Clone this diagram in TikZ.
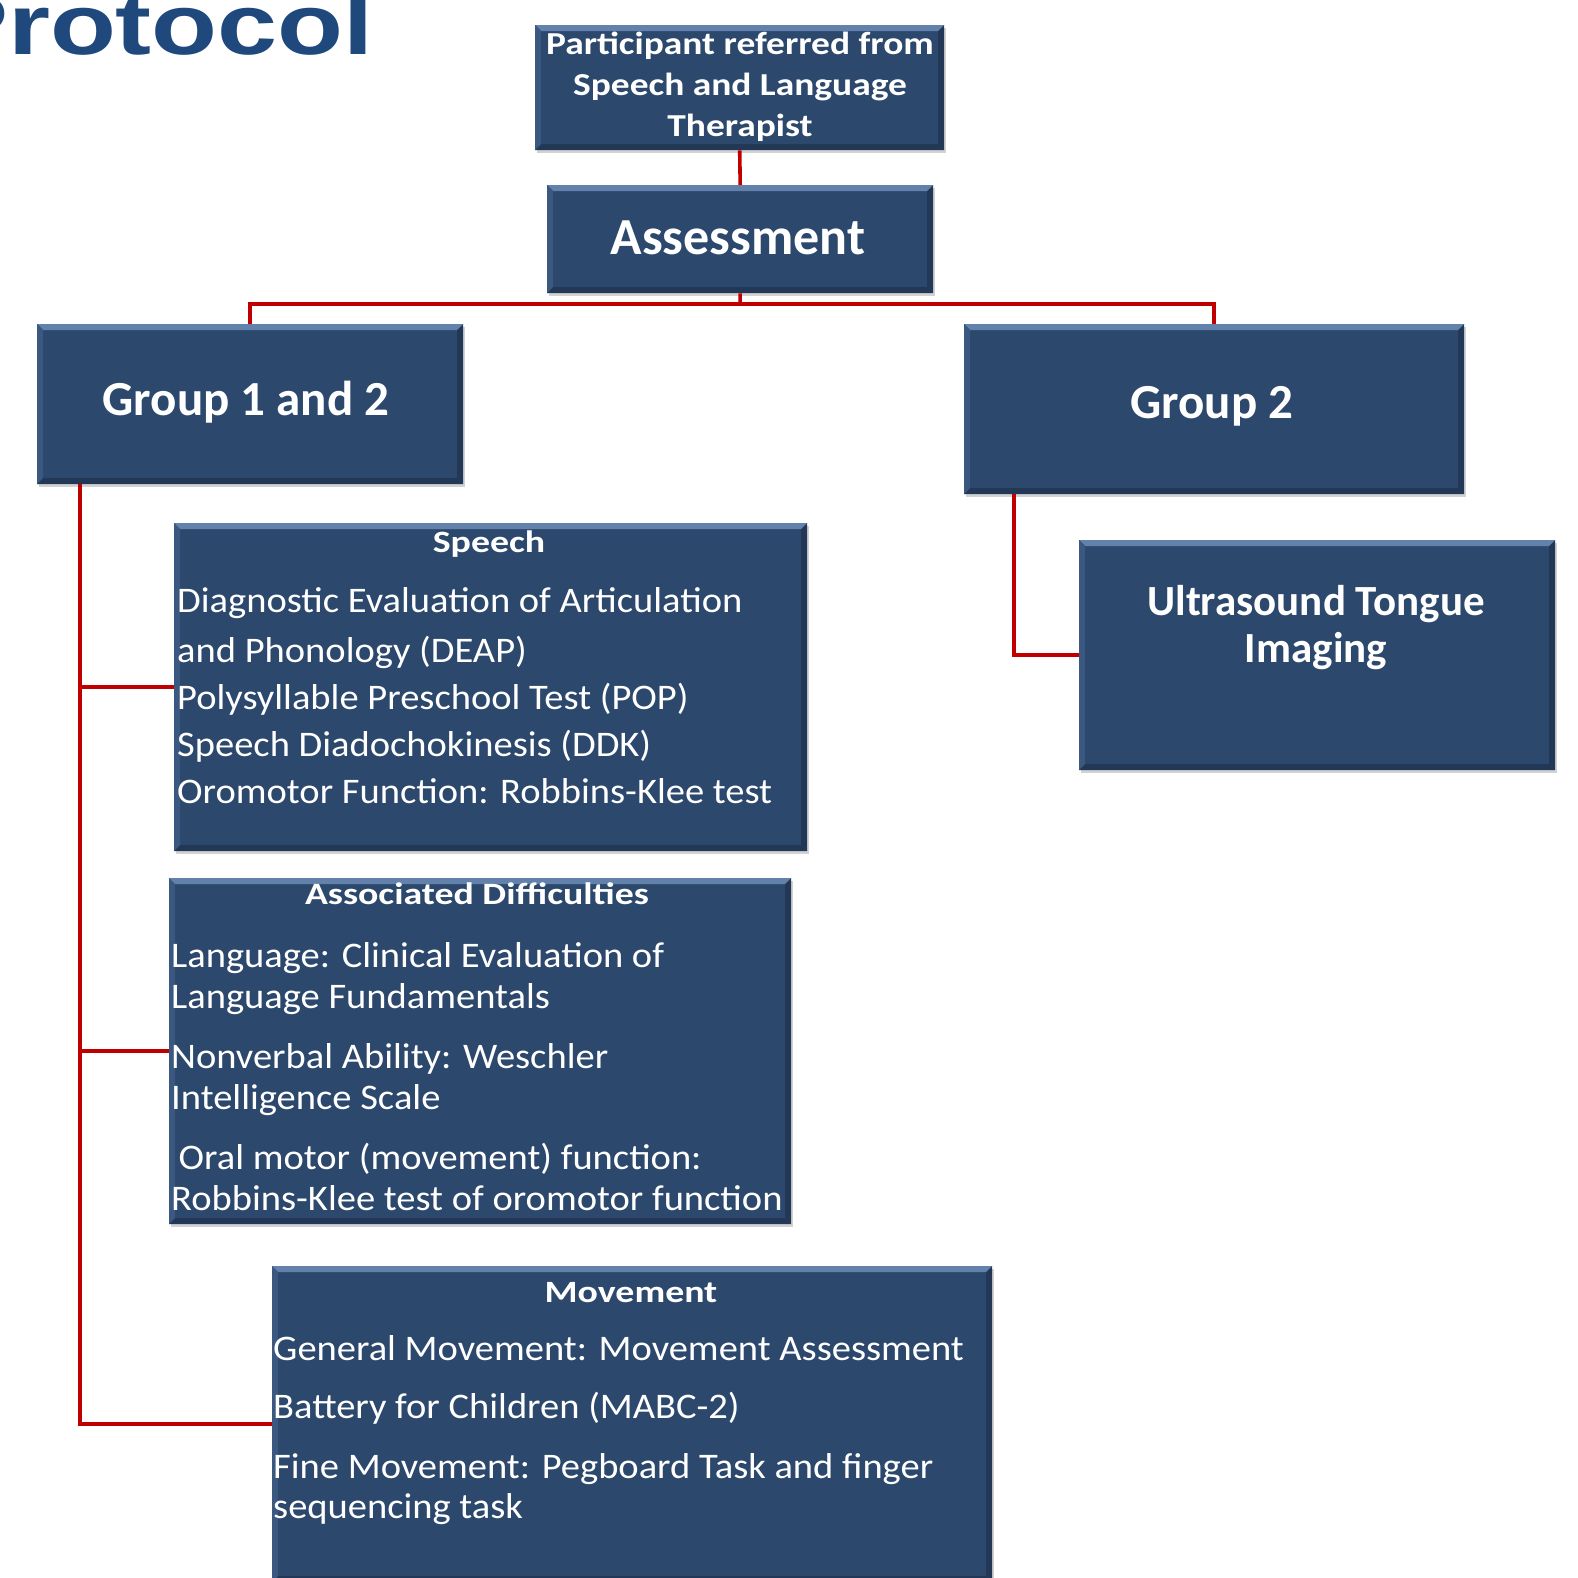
\documentclass[tikz,border=0pt]{standalone}
\usepackage{graphicx}
\usepackage{fontspec}
\setmainfont{Carlito}
\newfontfamily\titlefont{Liberation Sans}
\usetikzlibrary{shadows}
\definecolor{boxblue}{RGB}{44,72,108}
\definecolor{bevlight}{RGB}{98,130,172}
\definecolor{bevmid}{RGB}{58,88,128}
\definecolor{bevdark}{RGB}{34,56,86}
\definecolor{linkred}{RGB}{192,0,0}
\definecolor{titleblue}{RGB}{31,73,125}
\tikzset{
  box/.style={rectangle, inner sep=0pt, fill=boxblue, anchor=north west,
    drop shadow={shadow xshift=2pt, shadow yshift=-3pt, opacity=0.35},
    path picture={
      \fill[bevlight] (path picture bounding box.north west) -- (path picture bounding box.north east)
        -- ([shift={(-6pt,-6pt)}]path picture bounding box.north east) -- ([shift={(6pt,-6pt)}]path picture bounding box.north west) -- cycle;
      \fill[bevmid] (path picture bounding box.north west) -- (path picture bounding box.south west)
        -- ([shift={(6pt,6pt)}]path picture bounding box.south west) -- ([shift={(6pt,-6pt)}]path picture bounding box.north west) -- cycle;
      \fill[bevdark] (path picture bounding box.north east) -- (path picture bounding box.south east)
        -- ([shift={(-6pt,6pt)}]path picture bounding box.south east) -- ([shift={(-6pt,-6pt)}]path picture bounding box.north east) -- cycle;
      \fill[bevdark] (path picture bounding box.south west) -- (path picture bounding box.south east)
        -- ([shift={(-6pt,6pt)}]path picture bounding box.south east) -- ([shift={(6pt,6pt)}]path picture bounding box.south west) -- cycle;
    }},
  txt/.style={text=white, inner sep=0pt},
  link/.style={draw=linkred, line width=3.6pt},
}
\begin{document}
\begin{tikzpicture}[x=1pt, y=-1pt]
\fill[white] (0,0) rectangle (1578,1578);
\clip (0,0) rectangle (1578,1578);

\node[anchor=base east, inner sep=0pt, text=titleblue] (title) at (374,55)
  {\titlefont\bfseries\fontsize{86}{90}\selectfont\scalebox{1.255}[1]{Protocol}};

% boxes
\node[box, minimum width=409pt, minimum height=125pt] (part) at (535,25) {};
\node[box, minimum width=386pt, minimum height=108pt] (assess) at (547,185) {};
\node[box, minimum width=426pt, minimum height=160pt] (g1) at (37,324) {};
\node[box, minimum width=500pt, minimum height=170pt] (g2) at (964,324) {};
\node[box, minimum width=476pt, minimum height=230pt] (us) at (1079,540) {};
\node[box, minimum width=633pt, minimum height=328pt] (sp) at (174,523) {};
\node[box, minimum width=622pt, minimum height=346pt] (ad) at (169,878) {};
\node[box, minimum width=720pt, minimum height=316pt] (mv) at (272,1266) {};

% connectors
\coordinate (hub) at (740,304);
\draw[link] (part.south) -- (assess.north);
\draw[link] (assess.south) -- (hub);
\draw[link] (g1.north) -- (g1.north |- hub) -- (g2.north |- hub) -- (g2.north);
\coordinate (spx) at ([xshift=43pt]g1.south west);
\draw[link] (spx) |- (mv.west);
\draw[link] (sp.west) -- (sp.west -| spx);
\draw[link] (ad.west) -- (ad.west -| spx);
\draw[link] ([xshift=50pt]g2.south west) |- (us.west);

% texts
\node[txt, anchor=base] (part-t) at (740,55)
  {\fontsize{32}{41}\selectfont\bfseries\scalebox{1.17}[1]{\begin{tabular}[t]{@{}c@{}}Participant referred from\\Speech and Language\\Therapist\end{tabular}}};
\node[txt, anchor=base] (assess-t) at (738,255)
  {\fontsize{52}{60}\selectfont\bfseries Assessment};
\node[txt, anchor=base] (g1-t) at (246,415)
  {\fontsize{49}{56}\selectfont\bfseries Group 1 and 2};
\node[txt, anchor=base] (g2-t) at (1212,418)
  {\fontsize{49}{56}\selectfont\bfseries Group 2};
\node[txt, anchor=base] (us-t) at (1316,615)
  {\fontsize{43}{47}\selectfont\bfseries\begin{tabular}[t]{@{}c@{}}Ultrasound Tongue\\Imaging\end{tabular}};

\node[txt, anchor=base] (sp-h) at (489,552)
  {\fontsize{31}{38}\selectfont\bfseries\scalebox{1.22}[1]{Speech}};
\node[txt, anchor=base west] (sp-t) at (177,612)
  {\fontsize{36}{47}\selectfont\scalebox{1.07}[1]{\begin{tabular}[t]{@{}l@{}}Diagnostic Evaluation of Articulation\\[3pt]and Phonology (DEAP)\\Polysyllable Preschool Test (POP)\\Speech Diadochokinesis (DDK)\\Oromotor Function: Robbins-Klee test\end{tabular}}};

\node[txt, anchor=base] (ad-h) at (477,904)
  {\fontsize{31}{38}\selectfont\bfseries\scalebox{1.22}[1]{Associated Difficulties}};
\node[txt, anchor=base west] (ad-t) at (171,967)
  {\fontsize{36}{41}\selectfont\scalebox{1.07}[1]{\begin{tabular}[t]{@{}l@{}}Language: Clinical Evaluation of\\Language Fundamentals\\[19pt]Nonverbal Ability: Weschler\\Intelligence Scale\\[19pt]\hspace*{7pt}Oral motor (movement) function:\\Robbins-Klee test of oromotor function\end{tabular}}};

\node[txt, anchor=base] (mv-h) at (631,1302)
  {\fontsize{31}{38}\selectfont\bfseries\scalebox{1.22}[1]{Movement}};
\node[txt, anchor=base west] (mv-t) at (273,1360)
  {\fontsize{36}{40}\selectfont\scalebox{1.07}[1]{\begin{tabular}[t]{@{}l@{}}General Movement: Movement Assessment\\[18pt]Battery for Children (MABC-2)\\[20pt]Fine Movement: Pegboard Task and finger\\sequencing task\end{tabular}}};
\end{tikzpicture}
\end{document}
